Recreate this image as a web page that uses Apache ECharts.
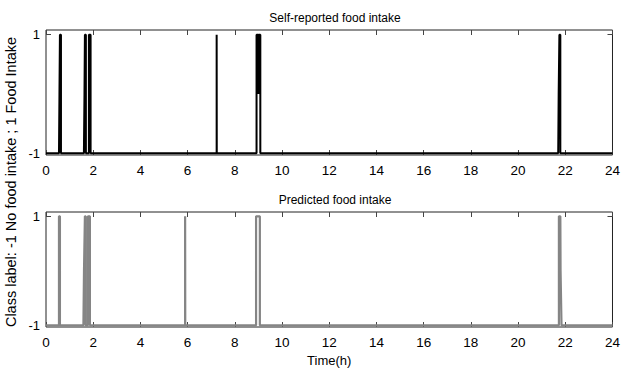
<!DOCTYPE html>
<html>
<head>
<meta charset="utf-8">
<script src="https://cdn.jsdelivr.net/npm/echarts@6/dist/echarts.min.js"></script>
<style>html,body{margin:0;padding:0;background:#fff}#c{width:623px;height:368px}</style>
</head>
<body>
<div id="c"></div>
<script>
// Time (hours) and class label of each change point of the signals
const selfTimes  = [0, 0.55, 0.57, 0.59, 0.634, 0.634, 1.606, 1.63, 1.648, 1.69, 1.69, 1.817, 1.817, 1.889, 1.889, 7.23, 7.23, 7.235, 8.92, 8.92, 8.99, 9.0, 9.01, 9.08, 9.08, 21.70, 21.72, 21.75, 21.79, 21.79, 24];
const selfValues = [-1, -1, 0, 1, 1, -1, -1, 0, 1, 1, -1, -1, 1, 1, -1, -1, 1, -1, -1, 1, 1, 0, 1, 1, -1, -1, 0, 1, 1, -1, -1];
const predTimes  = [0, 0.55, 0.55, 0.59, 0.59, 1.585, 1.61, 1.648, 1.68, 1.68, 1.775, 1.775, 1.86, 1.86, 5.894, 5.894, 5.90, 8.90, 8.90, 9.06, 9.06, 21.73, 21.73, 21.79, 21.80, 21.84, 24];
const predValues = [-1, -1, 1, 1, -1, -1, 0, 1, 1, -1, -1, 1, 1, -1, -1, 1, -1, -1, 1, 1, -1, -1, 1, 1, 0, -1, -1];
const xTicks = [0, 2, 4, 6, 8, 10, 12, 14, 16, 18, 20, 22, 24];
const yTicks = [-1, 1];
const titles = ['Self-reported food intake', 'Predicted food intake'];

const zip = (t, v) => t.map((x, i) => [x, v[i]]);
const font = 'Liberation Sans';

function xAx(grid, pos, showLabel, name) {
  return {
    type: 'value', gridIndex: grid, position: pos, min: 0, max: 24, interval: 2,
    axisLine: {show: false, onZero: false},
    axisTick: {show: true, inside: true, length: 5, customValues: xTicks, lineStyle: {color: '#444'}},
    axisLabel: {show: showLabel, color: '#000', fontSize: 13.5, fontFamily: font, margin: 8, customValues: xTicks},
    splitLine: {show: false},
    name: name || '', nameLocation: 'middle', nameGap: 27,
    nameTextStyle: {color: '#000', fontSize: 13, fontFamily: font}
  };
}
function yAx(grid, pos, showLabel) {
  return {
    type: 'value', gridIndex: grid, position: pos, min: -1.03, max: 1.08,
    axisLine: {show: false, onZero: false},
    axisTick: {show: true, inside: true, length: 5, customValues: yTicks, lineStyle: {color: '#444'}},
    axisLabel: {show: showLabel, color: '#000', fontSize: 13, fontFamily: font, margin: 6, customValues: yTicks},
    splitLine: {show: false}
  };
}

const chart = echarts.init(document.getElementById('c'), null, {renderer: 'svg'});
chart.setOption({
  animation: false,
  backgroundColor: '#fff',
  title: [
    {text: titles[0], left: 330, top: 7, textAlign: 'center', textStyle: {fontSize: 12, fontWeight: 'normal', color: '#000', fontFamily: font}},
    {text: titles[1], left: 330, top: 189, textAlign: 'center', textStyle: {fontSize: 12, fontWeight: 'normal', color: '#000', fontFamily: font}}
  ],
  grid: [
    {left: 46, right: 9, top: 30, height: 125, show: true, borderColor: '#222', borderWidth: 1, backgroundColor: '#fff'},
    {left: 46, right: 9, top: 212, height: 122, show: true, borderColor: '#222', borderWidth: 1, backgroundColor: '#fff'}
  ],
  xAxis: [
    xAx(0, 'bottom', true), xAx(0, 'top', false),
    xAx(1, 'bottom', true, 'Time(h)'), xAx(1, 'top', false)
  ],
  yAxis: [
    yAx(0, 'left', true), yAx(0, 'right', false),
    yAx(1, 'left', true), yAx(1, 'right', false)
  ],
  series: [
    {type: 'line', xAxisIndex: 0, yAxisIndex: 0, data: zip(selfTimes, selfValues), showSymbol: false, symbol: 'none',
     lineStyle: {color: '#000', width: 2}, clip: true},
    {type: 'line', xAxisIndex: 2, yAxisIndex: 2, data: zip(predTimes, predValues), showSymbol: false, symbol: 'none',
     lineStyle: {color: '#858585', width: 2.2}, clip: true}
  ],
  graphic: [
    {type: 'text', x: 11, y: 182, rotation: Math.PI / 2,
     style: {text: 'Class label: -1 No food intake ; 1 Food Intake', font: '14.5px "Liberation Sans"', fill: '#000', textAlign: 'center', textVerticalAlign: 'middle'}}
  ]
});
</script>
</body>
</html>
